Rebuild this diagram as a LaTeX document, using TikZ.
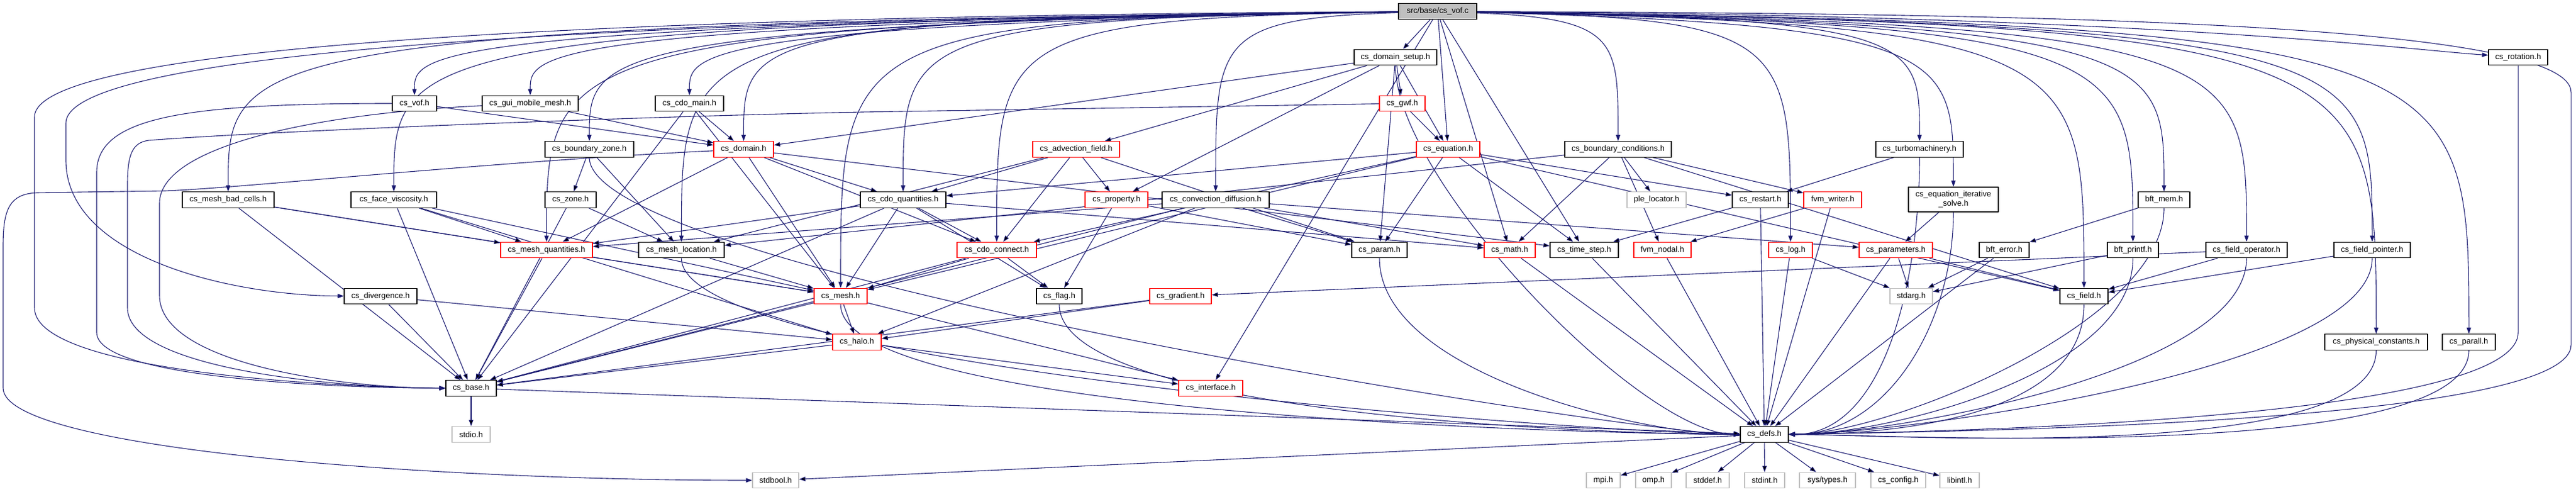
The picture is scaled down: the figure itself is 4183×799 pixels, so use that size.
\documentclass[tikz,border=0pt]{standalone}
\usepackage{fontspec}
\setmainfont{Liberation Sans}
\usetikzlibrary{arrows.meta,backgrounds}

\definecolor{edgeblue}{RGB}{25,25,112}
\definecolor{sysgray}{RGB}{191,191,191}
\definecolor{hdrred}{RGB}{255,0,0}

\tikzset{
  hdr/.style={draw=black, line width=1.3pt, fill=white, minimum height=25.5pt, inner xsep=0pt, inner ysep=2pt, font=\fontsize{13}{15}\selectfont},
  redhdr/.style={hdr, draw=hdrred},
  syshdr/.style={hdr, draw=sysgray},
  srcfile/.style={hdr, fill=sysgray},
  dep/.style={->, draw=edgeblue, line width=1.1pt}
}

\begin{document}
\begin{tikzpicture}[line cap=round,line join=round,>={Triangle[length=10pt,width=7pt]},x=1pt,y=1pt]
\useasboundingbox (0,0) rectangle (4183,-799);
% row 0 and 1
\node[srcfile, minimum width=127pt] (vofc) at (2334.5,-18.5) {src/base/cs\_vof.c};
\node[hdr, minimum width=134pt] (domsetup) at (2266,-93) {cs\_domain\_setup.h};
\node[hdr, minimum width=96pt] (rotation) at (4089,-93) {cs\_rotation.h};
% row 2
\node[hdr, minimum width=72pt] (vofh) at (673,-168) {cs\_vof.h};
\node[hdr, minimum width=156pt] (guimesh) at (861,-168) {cs\_gui\_mobile\_mesh.h};
\node[hdr, minimum width=111pt] (cdomain) at (1119.5,-168) {cs\_cdo\_main.h};
\node[redhdr, minimum width=74pt] (gwf) at (2277,-168) {cs\_gwf.h};
% row 3
\node[hdr, minimum width=144pt] (bzone) at (957,-242.5) {cs\_boundary\_zone.h};
\node[redhdr, minimum width=97pt] (domain) at (1207.5,-242.5) {cs\_domain.h};
\node[redhdr, minimum width=141pt] (advfield) at (1747.5,-242.5) {cs\_advection\_field.h};
\node[redhdr, minimum width=103pt] (equation) at (2351.5,-242.5) {cs\_equation.h};
\node[hdr, minimum width=173pt] (bcond) at (2627.5,-242.5) {cs\_boundary\_conditions.h};
\node[hdr, minimum width=142pt] (turbo) at (3117,-242.5) {cs\_turbomachinery.h};
% row 4
\node[hdr, minimum width=149pt] (badcells) at (370.5,-324.5) {cs\_mesh\_bad\_cells.h};
\node[hdr, minimum width=139pt] (facevisc) at (639.5,-324.5) {cs\_face\_viscosity.h};
\node[hdr, minimum width=83pt] (zone) at (926.5,-324.5) {cs\_zone.h};
\node[hdr, minimum width=139pt] (cdoquant) at (1466.5,-324.5) {cs\_cdo\_quantities.h};
\node[redhdr, minimum width=102pt] (property) at (1813,-324.5) {cs\_property.h};
\node[hdr, minimum width=174pt] (convdiff) at (1974,-324.5) {cs\_convection\_diffusion.h};
\node[syshdr, minimum width=96pt] (plelocator) at (2690,-324.5) {ple\_locator.h};
\node[hdr, minimum width=91pt] (restart) at (2858.5,-324.5) {cs\_restart.h};
\node[redhdr, minimum width=94pt] (fvmwriter) at (2976,-324.5) {fvm\_writer.h};
\node[hdr, minimum width=146pt, minimum height=40pt, align=center] (eqsolve) at (3172,-324) {cs\_equation\_iterative\\\_solve.h};
\node[hdr, minimum width=84pt] (bftmem) at (3514,-324.5) {bft\_mem.h};
% row 5
\node[redhdr, minimum width=149pt] (meshquant) at (887.5,-406) {cs\_mesh\_quantities.h};
\node[hdr, minimum width=139pt] (meshloc) at (1106.5,-406) {cs\_mesh\_location.h};
\node[redhdr, minimum width=129pt] (cdoconnect) at (1618.5,-406) {cs\_cdo\_connect.h};
\node[hdr, minimum width=90pt] (param) at (2240,-406) {cs\_param.h};
\node[redhdr, minimum width=83pt] (math) at (2451.5,-406) {cs\_math.h};
\node[hdr, minimum width=111pt] (timestep) at (2572.5,-406) {cs\_time\_step.h};
\node[redhdr, minimum width=93pt] (fvmnodal) at (2699.5,-406) {fvm\_nodal.h};
\node[redhdr, minimum width=71pt] (cslog) at (2907.5,-406) {cs\_log.h};
\node[redhdr, minimum width=119pt] (parameters) at (3078.5,-406) {cs\_parameters.h};
\node[hdr, minimum width=81pt] (bfterror) at (3254.5,-406) {bft\_error.h};
\node[hdr, minimum width=83pt] (bftprintf) at (3463.5,-406) {bft\_printf.h};
\node[hdr, minimum width=132pt] (fieldop) at (3648,-406) {cs\_field\_operator.h};
\node[hdr, minimum width=124pt] (fieldptr) at (3852,-406) {cs\_field\_pointer.h};
% row 6
\node[hdr, minimum width=118pt] (divergence) at (618,-481) {cs\_divergence.h};
\node[redhdr, minimum width=86pt] (mesh) at (1365,-481) {cs\_mesh.h};
\node[hdr, minimum width=74pt] (flag) at (1720,-481) {cs\_flag.h};
\node[redhdr, minimum width=100pt] (gradient) at (1917,-481) {cs\_gradient.h};
\node[syshdr, minimum width=69pt] (stdarg) at (3103.5,-481) {stdarg.h};
\node[hdr, minimum width=78pt] (field) at (3384,-481) {cs\_field.h};
% row 7 and 8
\node[redhdr, minimum width=79pt] (halo) at (1391.5,-555.5) {cs\_halo.h};
\node[hdr, minimum width=167pt] (physconst) at (3858.5,-555.5) {cs\_physical\_constants.h};
\node[hdr, minimum width=86pt] (parall) at (4009,-555.5) {cs\_parall.h};
\node[hdr, minimum width=82pt] (base) at (765,-630.5) {cs\_base.h};
\node[redhdr, minimum width=104pt] (interface) at (1966,-630.5) {cs\_interface.h};
% row 9 and 10
\node[syshdr, minimum width=62pt] (stdio) at (765,-705.5) {stdio.h};
\node[hdr, minimum width=78pt] (defs) at (2865,-705.5) {cs\_defs.h};
\node[syshdr, minimum width=75pt] (stdbool) at (1259.5,-780) {stdbool.h};
\node[syshdr, minimum width=55pt] (mpi) at (2603.5,-780) {mpi.h};
\node[syshdr, minimum width=58pt] (omp) at (2685,-780) {omp.h};
\node[syshdr, minimum width=70pt] (stddef) at (2773,-780) {stddef.h};
\node[syshdr, minimum width=65pt] (stdint) at (2865.5,-780) {stdint.h};
\node[syshdr, minimum width=91pt] (systypes) at (2967.5,-780) {sys/types.h};
\node[syshdr, minimum width=89pt] (config) at (3082.5,-780) {cs\_config.h};
\node[syshdr, minimum width=64pt] (libintl) at (3182,-780) {libintl.h};
% lanes under the source file
\coordinate (laneA) at (0,-40);
\coordinate (laneB) at (0,-90);
\coordinate (laneC) at (0,-30);
\coordinate (laneD) at (0,-65);
% include edges
\begin{scope}[on background layer]
% from the source file
\draw[dep] (vofc) .. controls (vofh |- laneA) and (vofh |- laneB) .. (vofh);
\draw[dep] (vofc) .. controls (guimesh |- laneA) and (guimesh |- laneB) .. (guimesh);
\draw[dep] (vofc) .. controls (cdomain |- laneA) and (cdomain |- laneB) .. (cdomain);
\draw[dep] (vofc) .. controls (bzone |- laneA) and (bzone |- laneB) .. (bzone);
\draw[dep] (vofc) .. controls (domain |- laneC) and (domain |- laneD) .. (domain);
\draw[dep] (vofc) .. controls (cdoquant |- laneC) and (cdoquant |- laneD) .. (cdoquant);
\draw[dep] (vofc) .. controls (badcells |- laneA) and (badcells |- laneB) .. (badcells);
\draw[dep] (vofc) .. controls (facevisc |- laneA) and (facevisc |- laneB) .. (facevisc);
\draw[dep] (vofc) .. controls (meshquant |- laneA) and (meshquant |- laneB) .. (meshquant);
\draw[dep] (vofc) .. controls (mesh |- laneC) and (mesh |- laneD) .. (mesh);
\draw[dep] (vofc) .. controls (meshloc |- laneC) and (meshloc |- laneD) .. (meshloc);
\draw[dep] (vofc) .. controls (cdoconnect |- laneC) and (cdoconnect |- laneD) .. (cdoconnect);
\draw[dep] (vofc) .. controls (convdiff |- laneC) and (convdiff |- laneD) .. (convdiff);
\draw[dep] (vofc) .. controls (1200,-30) and (107,-70) .. (107,-200) -- (107,-260) .. controls (107,-420) and (380,-480) .. (divergence);
\draw[dep] (vofc) .. controls (1200,-25) and (56,-60) .. (56,-190) -- (56,-500) .. controls (56,-610) and (600,-630) .. (base);
\draw[dep] (vofc) .. controls (turbo |- laneC) and (turbo |- laneD) .. (turbo);
\draw[dep] (vofc) .. controls (eqsolve |- laneA) and (eqsolve |- laneB) .. (eqsolve);
\draw[dep] (vofc) .. controls (bftmem |- laneA) and (bftmem |- laneB) .. (bftmem);
\draw[dep] (vofc) .. controls (bftprintf |- laneA) and (bftprintf |- laneB) .. (bftprintf);
\draw[dep] (vofc) .. controls (fieldop |- laneA) and (fieldop |- laneB) .. (fieldop);
\draw[dep] (vofc) .. controls (fieldptr |- laneA) and (fieldptr |- laneB) .. (fieldptr);
\draw[dep] (vofc) .. controls (physconst |- laneA) and (physconst |- laneB) .. (physconst);
\draw[dep] (vofc) .. controls (parall |- laneA) and (parall |- laneB) .. (parall);
\draw[dep] (vofc) .. controls (field |- laneA) and (field |- laneB) .. (field);
\draw[dep] (vofc) .. controls (cslog |- laneC) and (cslog |- laneD) .. (cslog);
\draw[dep] (vofc) .. controls (bcond |- laneC) and (bcond |- laneD) .. (bcond);
\draw[dep] (vofc) .. controls (3500,-25) and (3900,-80) .. (rotation);
\draw[dep] (vofc) .. controls (3200,-22) and (4175,-30) .. (4175,-150) -- (4175,-560) .. controls (4175,-680) and (3300,-700) .. (defs);
\draw[dep] (vofc) edge (domsetup) edge (equation) edge (timestep) edge (math) edge (interface);
% second level
\draw[dep] (domsetup) edge (domain) edge (advfield) edge (property) edge (param) edge (gwf) edge (equation);
\draw[dep] (domsetup) .. controls +(0,-200) and +(-200,0) .. (defs);
\draw[dep] (vofh) edge (domain);
\draw[dep] (vofh) .. controls (300,-168) and (157,-190) .. (157,-280) -- (157,-540) .. controls (157,-615) and (550,-630) .. (base);
\draw[dep] (guimesh) edge (domain);
\draw[dep] (guimesh) .. controls (500,-185) and (259,-240) .. (259,-330) -- (259,-480) .. controls (259,-590) and (550,-630) .. (base);
\draw[dep] (cdomain) edge (base) edge (domain) edge (mesh);
\draw[dep] (gwf) edge (equation);
\draw[dep] (gwf) -- (1400,-182) .. controls (1000,-190) and (400,-215) .. (241,-228) .. controls (215,-232) and (207,-250) .. (207,-300) -- (207,-500) .. controls (207,-600) and (550,-630) .. (base);
\draw[dep] (bzone) edge (zone) edge (meshloc);
\draw[dep] (bzone) .. controls +(0,-200) and +(-200,0) .. (defs);
\draw[dep] (domain) edge (meshquant) edge (mesh) edge (cdoquant) edge (cdoconnect) edge (timestep);
\draw[dep] (domain) .. controls (800,-262) and (400,-305) .. (268,-310) -- (60,-313) .. controls (15,-315) and (5,-340) .. (5,-400) -- (5,-630) .. controls (5,-730) and (700,-780) .. (stdbool);
\draw[dep] (advfield) edge (cdoquant) edge (cdoconnect) edge (property) edge (param) edge (meshloc);
\draw[dep] (equation) edge (cdoquant) edge (cdoconnect) edge (param) edge (mesh) edge (timestep) edge (field) edge (restart);
\draw[dep] (bcond) edge (math) edge (fvmnodal) edge (plelocator) edge (field) edge (fvmwriter) edge (meshloc);
\draw[dep] (turbo) edge (restart);
\draw[dep] (turbo) .. controls +(0,-200) and +(200,0) .. (defs);
% middle rows
\draw[dep] (badcells) edge (base) edge (mesh) edge (meshquant);
\draw[dep] (facevisc) edge (base) edge (mesh) edge (meshquant) edge (halo);
\draw[dep] (zone) edge (base) edge (meshloc);
\draw[dep] (cdoquant) edge (meshquant) edge (cdoconnect) edge (flag) edge (mesh) edge (base) edge (math);
\draw[dep] (property) edge (flag) edge (param);
\draw[dep] (convdiff) edge (meshquant) edge (halo) edge (base) edge (param) edge (math) edge (parameters);
\draw[dep] (restart) edge (timestep) edge (defs);
\draw[dep] (fvmwriter) edge (fvmnodal) edge (defs);
\draw[dep] (eqsolve) edge (parameters);
\draw[dep] (eqsolve) .. controls +(0,-200) and +(200,0) .. (defs);
\draw[dep] (bftmem) edge (bfterror);
\draw[dep] (bftmem) .. controls +(0,-200) and +(200,0) .. (defs);
\draw[dep] (meshquant) edge (base) edge (mesh);
\draw[dep] (meshloc) edge (mesh);
\draw[dep] (meshloc) .. controls +(0,-200) and +(-200,0) .. (defs);
\draw[dep] (cdoconnect) edge (mesh) edge (flag) edge (base);
\draw[dep] (param) .. controls +(0,-200) and +(-200,0) .. (defs);
\draw[dep] (math) edge (defs);
\draw[dep] (timestep) edge (defs);
\draw[dep] (fvmnodal) edge (defs);
\draw[dep] (cslog) edge (stdarg) edge (defs);
\draw[dep] (parameters) edge (stdarg) edge (field) edge (defs);
\draw[dep] (bfterror) edge (stdarg) edge (defs);
\draw[dep] (bftprintf) edge (stdarg);
\draw[dep] (bftprintf) .. controls +(0,-200) and +(200,0) .. (defs);
\draw[dep] (fieldop) edge (gradient) edge (field);
\draw[dep] (fieldop) .. controls +(0,-200) and +(200,0) .. (defs);
\draw[dep] (fieldptr) edge (field);
\draw[dep] (fieldptr) .. controls +(0,-200) and +(200,0) .. (defs);
% lower rows
\draw[dep] (divergence) edge (base) edge (halo);
\draw[dep] (mesh) edge (halo) edge (base) edge (interface);
\draw[dep] (mesh) .. controls +(0,-200) and +(-200,0) .. (defs);
\draw[dep] (flag) .. controls +(0,-200) and +(-200,0) .. (defs);
\draw[dep] (gradient) edge (base) edge (halo);
\draw[dep] (field) .. controls +(0,-200) and +(200,0) .. (defs);
\draw[dep] (halo) edge (base) edge (interface);
\draw[dep] (physconst) .. controls +(0,-200) and +(200,0) .. (defs);
\draw[dep] (parall) .. controls +(0,-200) and +(200,0) .. (defs);
\draw[dep] (rotation) -- (4089,-540) .. controls (4089,-670) and (3300,-700) .. (defs);
\draw[dep] (base) edge (stdio) edge (defs);
\draw[dep] (defs) edge (stdbool) edge (mpi) edge (omp) edge (stddef) edge (stdint) edge (systypes) edge (config) edge (libintl);
\end{scope}
\end{tikzpicture}
\end{document}
